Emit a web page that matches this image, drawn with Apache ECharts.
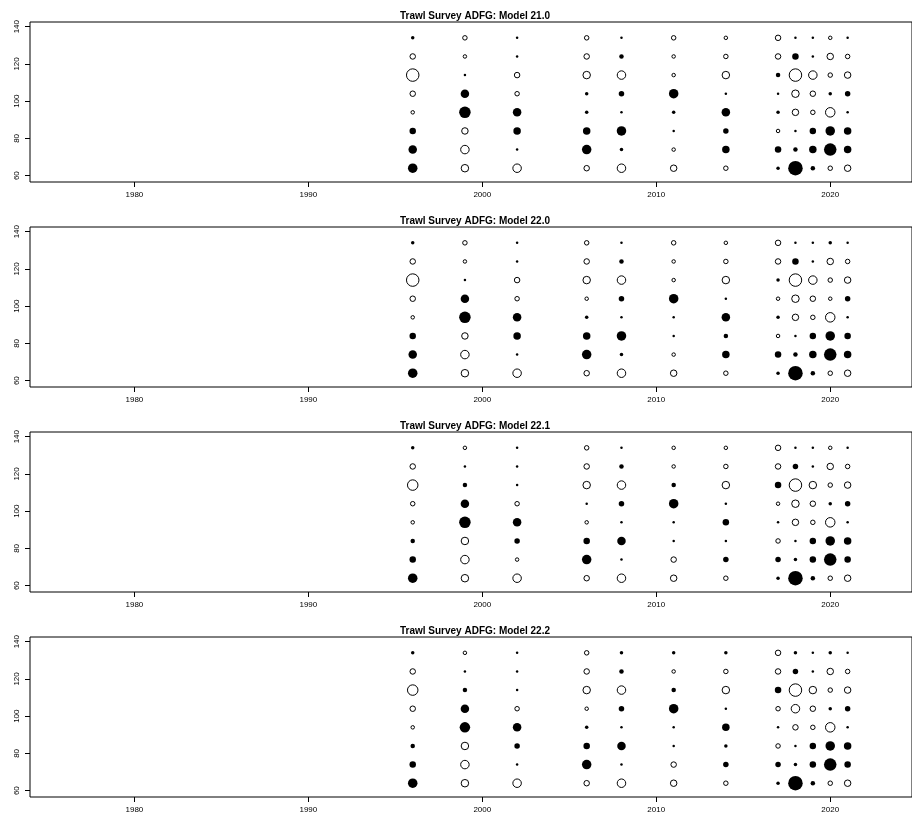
<!DOCTYPE html>
<html>
<head>
<meta charset="utf-8">
<script src="https://cdn.jsdelivr.net/npm/echarts@6/dist/echarts.min.js"></script>
<style>html,body{margin:0;padding:0;background:#fff}#main{width:912px;height:825px}</style>
</head>
<body>
<div id="main"></div>
<script>
var years = [1996, 1999, 2002, 2006, 2008, 2011, 2014, 2017, 2018, 2019, 2020, 2021];
var sizes = [64, 74, 84, 94, 104, 114, 124, 134];
var titles = ['Trawl Survey ADFG: Model 21.0', 'Trawl Survey ADFG: Model 22.0',
              'Trawl Survey ADFG: Model 22.1', 'Trawl Survey ADFG: Model 22.2'];
var xTicks = [1980, 1990, 2000, 2010, 2020];
var yTicks = [60, 80, 100, 120, 140];
// residual bubble diameter per year column, sizes 64..134; positive = filled, negative = open
var resid21 = [
    [9,8,6,-3,-5,-12,-5,3],
    [-7,-8,-6,11,8,2,-3,-4],
    [-8,2,7,8,-4,-5,2,2],
    [-5,9,7,3,3,-7,-5,-4],
    [-8,3,9,2,5,-8,4,2],
    [-6,-3,2,3,9,-3,-3,-4],
    [-4,7,5,8,2,-7,-4,-3],
    [3,6,-3,3,2,4,-5,-5],
    [14,4,2,-6,-7,-12,6,2],
    [4,7,6,-4,-5,-8,2,2],
    [-4,12,9,-9,3,-4,-6,-3],
    [-6,7,7,2,5,-6,-4,2]
];
var resid220 = [
    [9,8,6,-3,-5,-12,-5,3],
    [-7,-8,-6,11,8,2,-3,-4],
    [-8,2,7,8,-4,-5,2,2],
    [-5,9,7,3,-3,-7,-5,-4],
    [-8,3,9,2,5,-8,4,2],
    [-6,-3,2,2,9,-3,-3,-4],
    [-4,7,4,8,2,-7,-4,-3],
    [3,6,-3,3,-3,3,-5,-5],
    [14,4,2,-6,-7,-12,6,2],
    [4,7,6,-4,-5,-8,2,2],
    [-4,12,9,-9,-3,-4,-6,3],
    [-6,7,6,2,5,-6,-4,2]
];
var resid221 = [
    [9,6,4,-3,-4,-10,-5,3],
    [-7,-8,-7,11,8,4,2,-3],
    [-8,-3,5,8,-4,2,2,2],
    [-5,9,6,-3,2,-7,-5,-4],
    [-8,2,8,2,5,-8,4,2],
    [-6,-5,2,2,9,4,-3,-3],
    [-4,5,2,6,2,-7,-4,-3],
    [3,5,-4,2,-3,6,-5,-5],
    [14,3,2,-6,-7,-12,5,2],
    [4,6,6,-4,-5,-7,2,2],
    [-4,12,9,-9,3,-4,-6,-3],
    [-6,6,7,2,5,-6,-4,2]
];
var resid222 = [
    [9,6,4,-3,-5,-10,-5,3],
    [-7,-8,-7,10,8,4,2,-3],
    [-8,2,5,8,-4,2,2,2],
    [-5,9,6,3,-3,-7,-5,-4],
    [-8,2,8,2,5,-8,4,3],
    [-6,-5,2,2,9,4,-3,3],
    [-4,5,3,7,2,-7,-4,3],
    [3,5,-4,2,-4,6,-5,-5],
    [14,3,2,-5,-8,-12,5,3],
    [4,6,6,-4,-5,-7,2,2],
    [-4,12,9,-9,3,-4,-6,3],
    [-6,6,7,2,5,-6,-4,2]
];
var panels = [resid21, resid220, resid221, resid222];

var font = 'Liberation Sans';
var tops = [22, 227, 432, 637];
var option = {animation: false, title: [], grid: [], xAxis: [], yAxis: [], series: []};
panels.forEach(function (resid, p) {
    option.title.push({
        text: titles[p], left: 470, top: tops[p] - 16, textAlign: 'center',
        textStyle: {fontFamily: font, fontSize: 10, fontWeight: 'bold', color: '#000'}
    });
    option.grid.push({left: 30, right: 0, top: tops[p], height: 160,
        show: true, borderColor: '#000', borderWidth: 1});
    option.xAxis.push({
        type: 'value', gridIndex: p, min: 1974, max: 2024.7,
        axisLine: {show: false}, splitLine: {show: false},
        axisTick: {show: true, length: 5, lineStyle: {color: '#000'}, customValues: xTicks},
        axisLabel: {fontFamily: font, fontSize: 8, color: '#000', margin: 9, customValues: xTicks,
            formatter: function (v) { return String(v); }}
    });
    option.yAxis.push({
        type: 'value', gridIndex: p, min: 56.6, max: 142.5,
        axisLine: {show: false}, splitLine: {show: false},
        axisTick: {show: true, length: 5, lineStyle: {color: '#000'}, customValues: yTicks},
        axisLabel: {fontFamily: font, fontSize: 8, color: '#000', rotate: 90, margin: 9, customValues: yTicks}
    });
    var data = [];
    years.forEach(function (yr, i) {
        sizes.forEach(function (sz, j) {
            var v = resid[i][j];
            data.push({
                value: [yr, sz], symbolSize: Math.abs(v) + 0.5,
                itemStyle: v > 0 ? {color: '#000', borderWidth: 0, opacity: 1}
                                 : {color: '#fff', borderColor: '#000', borderWidth: 1, opacity: 1}
            });
        });
    });
    option.series.push({type: 'scatter', xAxisIndex: p, yAxisIndex: p, symbol: 'circle', data: data});
});
echarts.init(document.getElementById('main')).setOption(option);
</script>
</body>
</html>
